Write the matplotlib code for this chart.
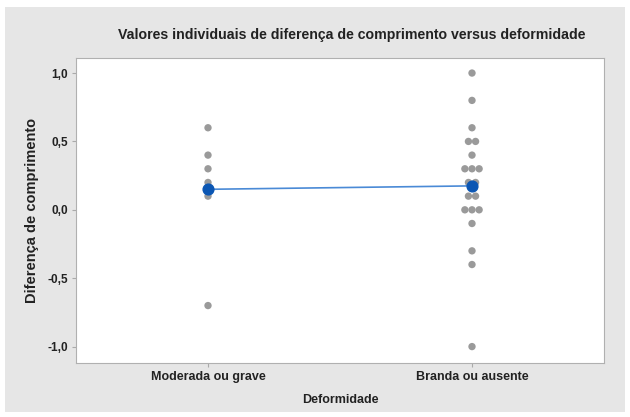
import numpy as np
import matplotlib
matplotlib.use("Agg")
from matplotlib import pyplot as plt
from matplotlib.patches import Rectangle

categories = ["Moderada ou grave", "Branda ou ausente"]
moderada = [0.6, 0.4, 0.3, 0.2, 0.1, -0.7]
branda = [1.0, 0.8, 0.6, 0.5, 0.5, 0.4, 0.3, 0.3, 0.3, 0.2, 0.2,
          0.1, 0.1, 0.0, 0.0, 0.0, -0.1, -0.3, -0.4, -1.0]
yticks = [-1.0, -0.5, 0.0, 0.5, 1.0]
ytick_labels = ["-1,0", "-0,5", "0,0", "0,5", "1,0"]

plt.rcParams['font.family'] = ['Liberation Sans', 'DejaVu Sans']

fig = plt.figure(figsize=(6.3, 4.17), dpi=100)
fig.patch.set_facecolor("white")
fig.patches.append(Rectangle((5 / 630, 5 / 417), 620 / 630, 405 / 417,
                             transform=fig.transFigure, facecolor="#e6e6e6",
                             edgecolor="none", zorder=-10))

ax = fig.add_axes([76 / 630, 1 - 363 / 417, 528 / 630, 305 / 417])
ax.set_facecolor("white")

step = 0.027
for i, vals in enumerate([moderada, branda]):
    vals = np.array(vals)
    for v in np.unique(vals):
        n = np.sum(np.isclose(vals, v))
        offs = (np.arange(n) - (n - 1) / 2) * step
        ax.scatter(i + offs, [v] * n, s=28, color="#9a9a9a", edgecolors="none", zorder=2)

means = [np.mean(moderada), np.mean(branda)]
ax.plot([0, 1], means, color="#4a8ad6", lw=1.2, zorder=3)
ax.scatter([0, 1], means, s=60, color="#0b56b3", zorder=4)

ax.set_xlim(-0.5, 1.5)
ax.set_ylim(-1.12, 1.11)
ax.set_xticks([0, 1])
ax.set_xticklabels(categories, fontsize=9, fontweight="bold", color="#222222")
ax.set_yticks(yticks)
ax.set_yticklabels(ytick_labels, fontsize=8.5, fontweight="bold", color="#222222")
ax.tick_params(axis="both", length=3, color="#aaaaaa", pad=3)
for sp in ax.spines.values():
    sp.set_color("#b0b0b0")

ax.set_xlabel("Deformidade", fontsize=9, fontweight="bold", color="#222222", labelpad=8)
ax.set_ylabel("Diferença de comprimento", fontsize=10.5, fontweight="bold", color="#222222", labelpad=6)
fig.text(352 / 630, 1 - 35 / 417, "Valores individuais de diferença de comprimento versus deformidade",
         ha="center", va="center", fontsize=10.2, fontweight="bold", color="#222222")

fig.savefig("out.png", dpi=100)
